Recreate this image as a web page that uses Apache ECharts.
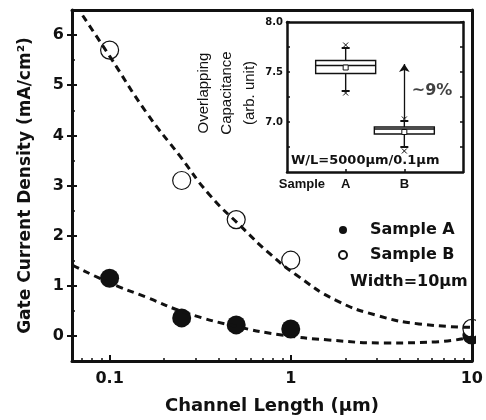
<!DOCTYPE html>
<html><head><meta charset="utf-8">
<script src="https://cdn.jsdelivr.net/npm/echarts@6/dist/echarts.min.js"></script>
<style>html,body{margin:0;padding:0;background:#fff}#c{width:486px;height:420px}</style>
</head><body><div id="c"></div>
<script>
// ---- main chart data ----
const channelLength = [0.1, 0.25, 0.5, 1, 10];
const sampleA = [1.15, 0.36, 0.22, 0.14, 0.02];
const sampleB = [5.70, 3.10, 2.32, 1.51, 0.15];
const fitLengthA = [0.0626, 0.1, 0.16, 0.265, 0.5, 0.89, 1.62, 3.34, 6.3, 10];
const fitA = [1.41, 1.06, 0.77, 0.46, 0.19, 0.02, -0.08, -0.14, -0.12, -0.02];
const fitLengthB = [0.071, 0.1, 0.16, 0.243, 0.355, 0.54, 0.76, 1.07, 1.78, 3.06, 5.1, 10];
const fitB = [6.39, 5.58, 4.45, 3.60, 2.82, 2.16, 1.65, 1.22, 0.71, 0.40, 0.24, 0.17];
const xTickValues = [0.1, 1, 10];
const xTickLabels = ['0.1', '1', '10'];
const xMinorTicks = [0.07, 0.08, 0.09, 0.2, 0.3, 0.4, 0.5, 0.6, 0.7, 0.8, 0.9, 2, 3, 4, 5, 6, 7, 8, 9];
const yTickValues = [0, 1, 2, 3, 4, 5, 6];
const yMinorTicks = [0.5, 1.5, 2.5, 3.5, 4.5, 5.5];
const legendNames = ['Sample A', 'Sample B'];
const widthNote = 'Width=10\u03bcm';

// ---- inset data ----
const insetSamples = ['A', 'B'];
const boxMin = [7.31, 6.75];
const boxQ1 = [7.485, 6.88];
const boxMedian = [7.565, 6.93];
const boxQ3 = [7.615, 6.95];
const boxMax = [7.74, 7.01];
const boxMean = [7.545, 6.90];
const extremeLow = [7.29, 6.71];
const extremeHigh = [7.77, 7.03];
const insetTickValues = [7.0, 7.5, 8.0];
const insetMinorTicks = [6.75, 7.25, 7.75];
const arrowFrom = 7.03;
const arrowTo = 7.58;
const arrowLabel = '~9%';
const arrowLabelAt = 7.31;
const insetNote = 'W/L=5000\u03bcm/0.1\u03bcm';

const L = Math.log10;
const INK = '#111';
const bold = {fontFamily: 'DejaVu Sans', fontWeight: 'bold', color: INK};

const chart = echarts.init(document.getElementById('c'), null, {renderer: 'canvas'});

const xMin = L(0.062), xMax = L(10);
const noSplit = {show: false};
function xA(extra) {
  return Object.assign({type: 'value', gridIndex: 0, min: xMin, max: xMax, position: 'bottom', z: 10,
    splitLine: noSplit, axisLine: {show: false, onZero: false}, axisTick: {show: false}, axisLabel: {show: false}}, extra);
}
function yA(extra) {
  return Object.assign({type: 'value', gridIndex: 0, min: -0.5, max: 6.5, position: 'left', z: 10,
    splitLine: noSplit, axisLine: {show: false, onZero: false}, axisTick: {show: false}, axisLabel: {show: false}}, extra);
}
function ixA(extra) {
  return Object.assign({type: 'value', gridIndex: 1, min: 0, max: 3, position: 'bottom', z: 10,
    splitLine: noSplit, axisLine: {show: false, onZero: false}, axisTick: {show: false}, axisLabel: {show: false}}, extra);
}
function iyA(extra) {
  return Object.assign({type: 'value', gridIndex: 1, min: 6.5, max: 8.0, position: 'left', z: 10,
    splitLine: noSplit, axisLine: {show: false, onZero: false}, axisTick: {show: false}, axisLabel: {show: false}}, extra);
}
const frame = (w) => ({show: true, onZero: false, lineStyle: {color: INK, width: w}});

const boxData = insetSamples.map((s, i) => [i + 1, boxMin[i], boxQ1[i], boxMedian[i], boxQ3[i], boxMax[i], boxMean[i], extremeLow[i], extremeHigh[i]]);

function xMark(c, s) {
  return [
    {type: 'line', shape: {x1: c[0] - s, y1: c[1] - s, x2: c[0] + s, y2: c[1] + s}, style: {stroke: INK, lineWidth: 1}},
    {type: 'line', shape: {x1: c[0] - s, y1: c[1] + s, x2: c[0] + s, y2: c[1] - s}, style: {stroke: INK, lineWidth: 1}}
  ];
}

const option = {
  animation: false,
  backgroundColor: '#fff',
  grid: [
    {left: 72, right: 12, top: 10, bottom: 57},
    {left: 287, top: 22, width: 176, height: 150}
  ],
  title: [
    {text: widthNote, left: 350, top: 274, padding: 0, textStyle: Object.assign({fontSize: 16}, bold)},
    {text: insetNote, left: 291, top: 154, padding: 0, textStyle: Object.assign({fontSize: 13}, bold)}
  ],
  legend: {
    data: legendNames, orient: 'vertical', left: 338, top: 222, padding: 0, itemGap: 9,
    itemWidth: 8, itemHeight: 8, icon: 'circle', selectedMode: false,
    textStyle: Object.assign({fontSize: 16, lineHeight: 16, padding: [0, 0, 0, 18]}, bold)
  },
  xAxis: [
    xA({axisLine: frame(3),
      axisTick: {show: true, inside: true, length: 6, customValues: xTickValues.map(L), lineStyle: {color: INK, width: 2}},
      axisLabel: {show: true, margin: 10, customValues: xTickValues.map(L), fontSize: 16, fontFamily: 'DejaVu Sans', fontWeight: 'bold', color: INK,
        formatter: v => xTickLabels[xTickValues.findIndex(t => Math.abs(L(t) - v) < 1e-6)]},
      name: 'Channel Length (\u03bcm)', nameLocation: 'middle', nameGap: 36,
      nameTextStyle: Object.assign({fontSize: 18}, bold)}),
    xA({axisTick: {show: true, inside: true, length: 3, customValues: xMinorTicks.map(L), lineStyle: {color: INK, width: 1.5}}}),
    xA({position: 'top', axisLine: frame(3)}),
    ixA({axisLine: frame(2.5),
      axisTick: {show: true, inside: true, length: 3, customValues: [1, 2], lineStyle: {color: INK, width: 1.5}},
      axisLabel: {show: true, margin: 6, customValues: [1, 2], fontSize: 13, fontFamily: 'Liberation Sans', fontWeight: 'bold', color: INK,
        formatter: v => insetSamples[Math.round(v) - 1]},
      name: 'Sample', nameLocation: 'start', nameGap: -38,
      nameTextStyle: {fontSize: 13, fontFamily: 'Liberation Sans', fontWeight: 'bold', color: INK, verticalAlign: 'top', align: 'right', padding: [6, 0, 0, 0]}}),
    ixA({position: 'top', axisLine: frame(2.5)})
  ],
  yAxis: [
    yA({axisLine: frame(3),
      axisTick: {show: true, inside: false, length: 5, customValues: yTickValues, lineStyle: {color: INK, width: 2}},
      axisLabel: {show: true, margin: 8, customValues: yTickValues, fontSize: 16, fontFamily: 'DejaVu Sans', fontWeight: 'bold', color: INK},
      name: 'Gate Current Density (mA/cm\u00b2)', nameLocation: 'middle', nameGap: 38,
      nameTextStyle: Object.assign({fontSize: 17}, bold)}),
    yA({axisTick: {show: true, inside: true, length: 5, customValues: yTickValues, lineStyle: {color: INK, width: 2}}}),
    yA({axisTick: {show: true, inside: true, length: 3, customValues: yMinorTicks, lineStyle: {color: INK, width: 1.5}}}),
    yA({position: 'right', axisLine: frame(3)}),
    iyA({axisLine: frame(2.5),
      axisTick: {show: true, inside: true, length: 3, customValues: insetTickValues.concat(insetMinorTicks), lineStyle: {color: INK, width: 1.5}},
      axisLabel: {show: true, margin: 4, customValues: insetTickValues, fontSize: 10, fontFamily: 'DejaVu Sans', fontWeight: 'bold', color: INK,
        formatter: v => v.toFixed(1)},
      name: 'Overlapping\nCapacitance\n(arb. unit)', nameLocation: 'middle', nameGap: 25,
      nameTextStyle: {fontSize: 15, lineHeight: 23, fontFamily: 'Liberation Sans', color: INK, padding: [0, 0, 0, 8]}}),
    iyA({position: 'right', axisLine: frame(2.5),
      axisTick: {show: true, inside: true, length: 3, customValues: insetTickValues.concat(insetMinorTicks), lineStyle: {color: INK, width: 1.5}}})
  ],
  graphic: [
    {type: 'rect', shape: {x: 476, y: 280, width: 10, height: 82}, style: {fill: '#fff'}, z: 50}
  ],
  series: [
    {name: 'Sample A', type: 'scatter', xAxisIndex: 0, yAxisIndex: 0, z: 2,
      data: channelLength.map((x, i) => [L(x), sampleA[i]]),
      symbol: 'circle', symbolSize: 19, itemStyle: {color: INK, opacity: 1}},
    {name: 'Sample B', type: 'scatter', xAxisIndex: 0, yAxisIndex: 0, z: 2,
      data: channelLength.map((x, i) => [L(x), sampleB[i]]),
      symbol: 'circle', symbolSize: 18, itemStyle: {color: '#fff', borderColor: INK, borderWidth: 1.2, opacity: 1}},
    {name: 'fit A', type: 'line', xAxisIndex: 0, yAxisIndex: 0, z: 3, smooth: true, symbol: 'none',
      data: fitLengthA.map((x, i) => [L(x), fitA[i]]),
      lineStyle: {color: INK, width: 3, type: [7, 5]}},
    {name: 'fit B', type: 'line', xAxisIndex: 0, yAxisIndex: 0, z: 3, smooth: true, symbol: 'none',
      data: fitLengthB.map((x, i) => [L(x), fitB[i]]),
      lineStyle: {color: INK, width: 3, type: [7, 5]}},
    {name: 'inset box', type: 'custom', xAxisIndex: 3, yAxisIndex: 4, z: 3,
      data: boxData,
      encode: {x: 0, y: [1, 2, 3, 4, 5, 6, 7, 8]},
      renderItem: function (params, api) {
        const x = api.value(0);
        const p = (k) => api.coord([x, api.value(k)]);
        const pMin = p(1), pQ1 = p(2), pMed = p(3), pQ3 = p(4), pMax = p(5), pMean = p(6), pLo = p(7), pHi = p(8);
        const cx = pMed[0], hw = 30, cap = 4;
        const ln = {stroke: INK, lineWidth: 1.4};
        return {type: 'group', children: [
          {type: 'line', shape: {x1: cx, y1: pMin[1], x2: cx, y2: pMax[1]}, style: ln},
          {type: 'line', shape: {x1: cx - cap, y1: pMin[1], x2: cx + cap, y2: pMin[1]}, style: {stroke: INK, lineWidth: 2}},
          {type: 'line', shape: {x1: cx - cap, y1: pMax[1], x2: cx + cap, y2: pMax[1]}, style: {stroke: INK, lineWidth: 2}},
          {type: 'rect', shape: {x: cx - hw, y: pQ3[1], width: 2 * hw, height: pQ1[1] - pQ3[1]}, style: {fill: '#fff', stroke: INK, lineWidth: 1.4}},
          {type: 'line', shape: {x1: cx - hw, y1: pMed[1], x2: cx + hw, y2: pMed[1]}, style: ln},
          {type: 'rect', shape: {x: cx - 2.5, y: pMean[1] - 2.5, width: 5, height: 5}, style: {fill: '#fff', stroke: INK, lineWidth: 1}}
        ].concat(xMark(pLo, 2.5), xMark(pHi, 2.5))};
      }},
    {name: 'arrow', type: 'lines', coordinateSystem: 'cartesian2d', xAxisIndex: 3, yAxisIndex: 4, z: 3,
      data: [{coords: [[2, arrowFrom], [2, arrowTo]]}],
      symbol: ['none', 'arrow'], symbolSize: 8,
      lineStyle: {color: INK, width: 1.3, opacity: 1}},
    {name: 'arrow label', type: 'scatter', xAxisIndex: 3, yAxisIndex: 4, z: 3,
      data: [[2, arrowLabelAt]], symbolSize: 1, itemStyle: {color: 'rgba(0,0,0,0)'},
      label: {show: true, position: 'right', distance: 7, formatter: arrowLabel, fontSize: 16, fontFamily: 'DejaVu Sans', fontWeight: 'bold', color: INK}}
  ]
};
chart.setOption(option);
</script>
</body></html>
